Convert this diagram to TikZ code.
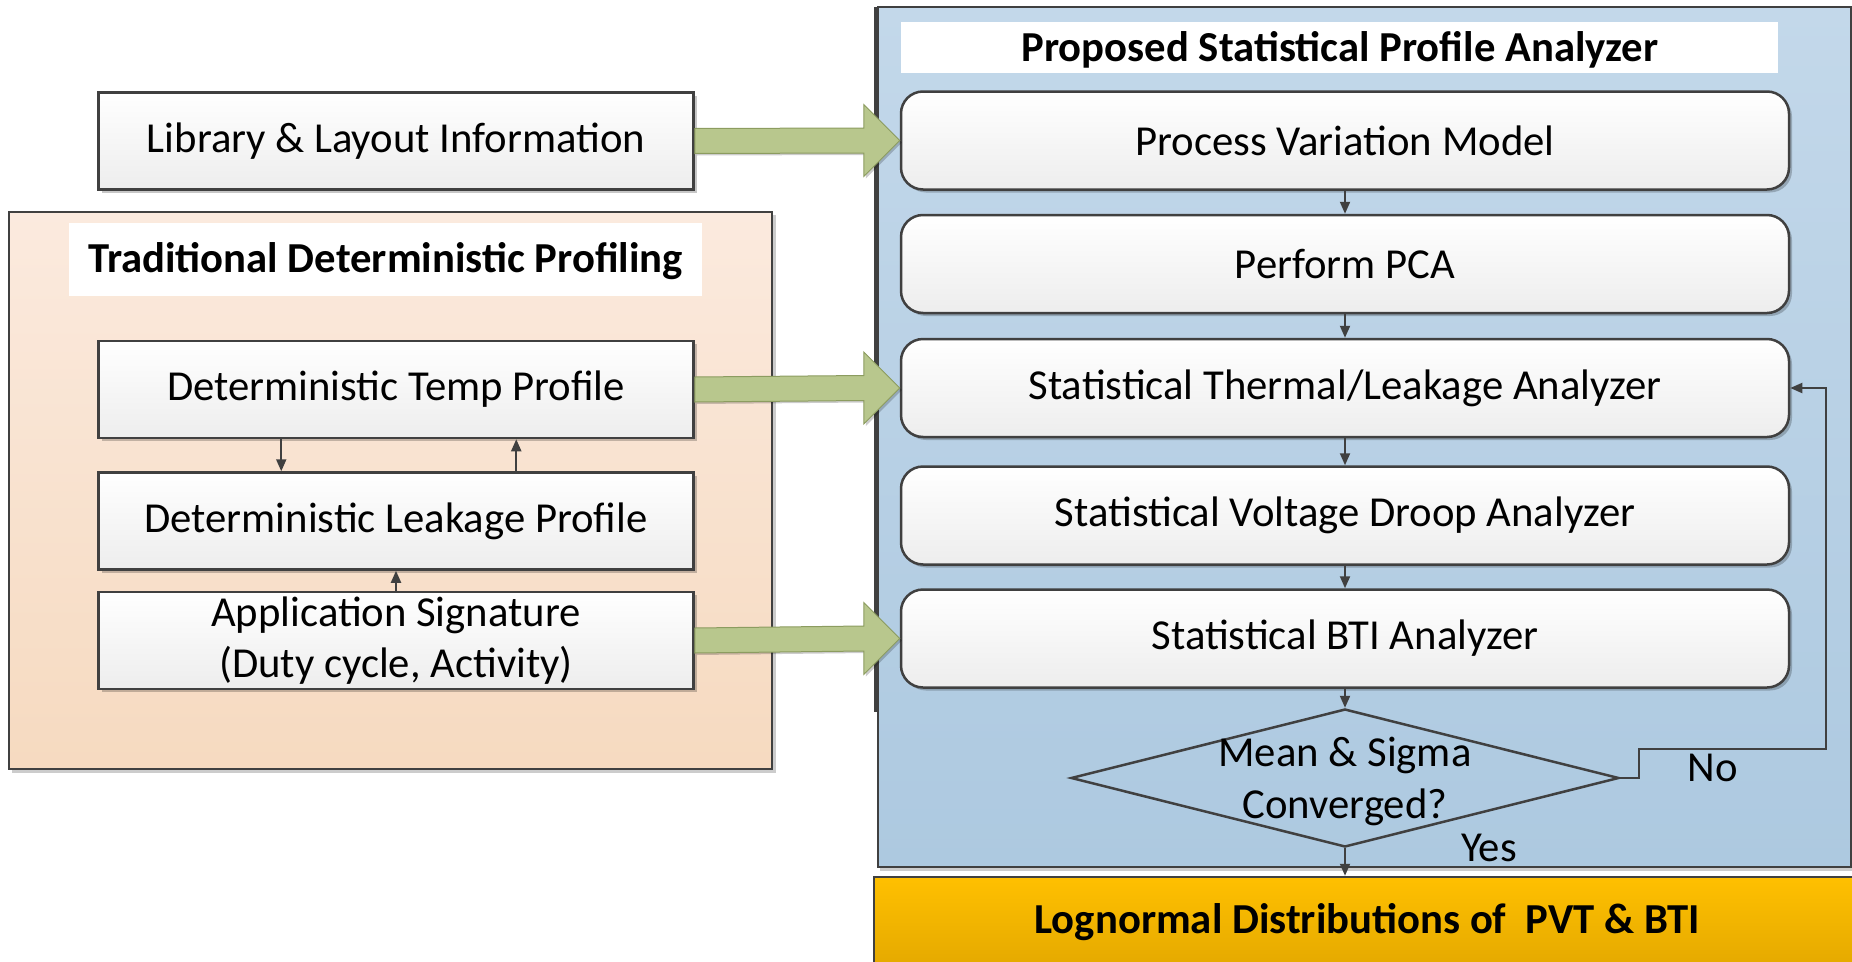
\documentclass[tikz,border=0pt]{standalone}
\usepackage{fontspec}
\setmainfont{Carlito}
\usetikzlibrary{shapes.geometric,arrows.meta,shadows,calc}
\definecolor{edge}{HTML}{404040}
\definecolor{boxbot}{HTML}{EDEDED}
\definecolor{peachtop}{HTML}{FBEADE}
\definecolor{peachbot}{HTML}{F6DAC0}
\definecolor{bluetop}{HTML}{C3D8EA}
\definecolor{bluebot}{HTML}{ADC9E0}
\definecolor{goldtop}{HTML}{FFC000}
\definecolor{goldbot}{HTML}{E2A700}
\definecolor{greenfill}{HTML}{B8C78D}
\definecolor{greenedge}{HTML}{8C9C60}
\begin{document}
\begin{tikzpicture}[x=1pt,y=-1pt,
  every node/.style={font=\fontsize{42.7}{51}\selectfont, text=black, inner sep=0pt},
  bold/.style={font=\fontsize{42.7}{51}\selectfont\bfseries},
  softshadow/.style={drop shadow={shadow xshift=3pt, shadow yshift=-3pt, fill=black, opacity=0.22}},
  sqbox/.style={draw=edge, line width=2.5pt, top color=white, bottom color=boxbot,
    minimum width=595pt, minimum height=97pt, align=center, softshadow},
  rbox/.style={draw=edge, line width=2.5pt, rounded corners=22pt, top color=white,
    bottom color=boxbot, minimum width=888pt, minimum height=98pt, softshadow},
  panel/.style={draw=edge, line width=2.5pt},
  conn/.style={draw=edge, line width=2pt, -{Triangle[length=12pt,width=10pt]}},
  garrow/.style={fill=greenfill, draw=greenedge, line width=1pt,
    drop shadow={shadow xshift=2pt, shadow yshift=-2pt, fill=black, opacity=0.2}}
]
\useasboundingbox (0,0) rectangle (1852,961);
\clip (0,0) rectangle (1852,961);

% panels
\fill[black, opacity=0.2] (12,215) rectangle (776,773);
\draw[panel, top color=peachtop, bottom color=peachbot] (9,212) rectangle (772,769);
\fill[white] (69,223) rectangle (702,296);
\node[bold] (tradtitle) at (385.5,261.5) {Traditional Deterministic Profiling};

\fill[black, opacity=0.2] (880,10) rectangle (1856,871);
\draw[panel, top color=bluetop, bottom color=bluebot] (878,7) rectangle (1851,867);
\draw[edge, line width=4pt] (876,7) -- (876,712);
\fill[white] (901,22) rectangle (1778,73);
\node[bold] (proptitle) at (1340,49.5) {Proposed Statistical Profile Analyzer};

% left column
\node[sqbox] (lib)  at (396,141)   {Library \& Layout Information};
\node[sqbox] (temp) at (396,389.5) {Deterministic Temp Profile};
\node[sqbox] (leak) at (396,521)   {Deterministic Leakage Profile};
\node[sqbox] (app)  at (396,640.5) {Application Signature\\(Duty cycle, Activity)};

% right column
\node[rbox] (pvm)   at (1345,140.5) {Process Variation Model};
\node[rbox] (pca)   at (1345,264)   {Perform PCA};
\node[rbox] (therm) at (1345,388)   {Statistical Thermal/Leakage Analyzer};
\node[rbox] (volt)  at (1345,515.5) {Statistical Voltage Droop Analyzer};
\node[rbox] (bti)   at (1345,638.5) {Statistical BTI Analyzer};

\node[diamond, draw=edge, line width=2.5pt, minimum width=548pt, minimum height=138pt] (dec) at (1345,778) {};
\node[align=center] (dectext) at (1345,781.5) {Mean \& Sigma\\[1pt]Converged?};

\fill[goldtop] (874,877) rectangle (1860,975);
\node[draw=edge, line width=2.5pt, top color=goldtop, bottom color=goldbot,
  minimum width=986pt, minimum height=98pt] (out) at (1367,926) {};
\node[bold] (outtext) at (1367,922.5) {Lognormal Distributions of\ \ PVT \& BTI};

% wide green arrows into the analyzer
\foreach \src/\dst in {lib/pvm, temp/therm, app/bti}{
  \draw[garrow] ($(\src.east)+(0,-12.5)$) -- ($(\dst.west)+(-36,-12.5)$)
    -- ($(\dst.west)+(-36,-36)$) -- (\dst.west) -- ($(\dst.west)+(-36,36)$)
    -- ($(\dst.west)+(-36,12.5)$) -- ($(\src.east)+(0,12.5)$) -- cycle;
}

% small connectors
\draw[conn] ($(temp.south west)+(184,0)$) -- ($(leak.north west)+(184,0)$);
\draw[conn] ($(leak.north west)+(419,0)$) -- ($(temp.south west)+(419,0)$);
\draw[conn] (app.north) -- (leak.south);

\draw[conn] (pvm.south) -- (pca.north);
\draw[conn] (pca.south) -- (therm.north);
\draw[conn] (therm.south) -- (volt.north);
\draw[conn] (volt.south) -- (bti.north);
\draw[conn] (bti.south) -- (dec.north);
\draw[conn] (dec.south) -- (dec.south |- out.north);

\coordinate (stepA) at (1639,778);
\coordinate (stepB) at (1639,749);
\coordinate (stepC) at (1826,749);
\draw[conn] (dec.east) -- (stepA) -- (stepB) -- (stepC) |- (therm.east);

\node (no)  at (1713,768) {No};
\node (yes) at (1489,848) {Yes};
\end{tikzpicture}
\end{document}
